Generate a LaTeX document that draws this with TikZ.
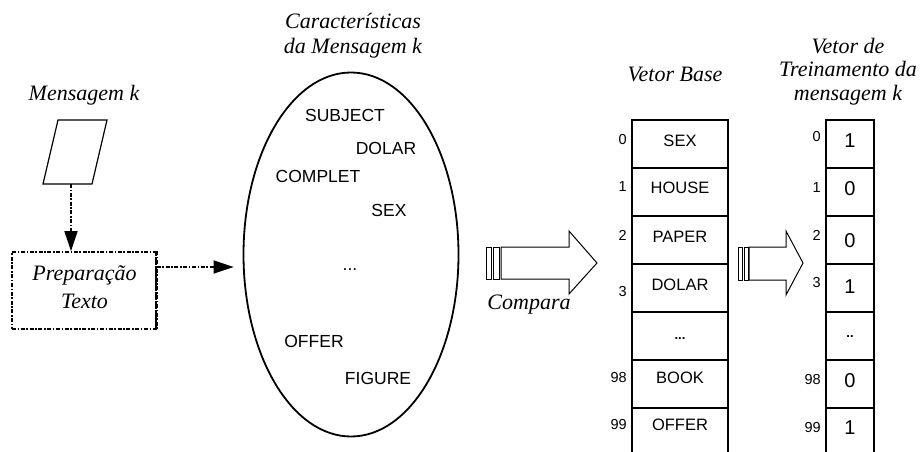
\documentclass[tikz,border=0pt]{standalone}
\usepackage{fontspec}
\setmainfont{Liberation Serif}
\newfontfamily\arialish{Liberation Sans}
\usetikzlibrary{shapes.geometric,arrows.meta}

\begin{document}
\begin{tikzpicture}[x=1pt,y=-1pt,
  title/.style={font=\fontsize{22}{25}\selectfont\itshape, align=center, inner sep=0},
  word/.style={font=\arialish\fontsize{16.5}{18}\selectfont, inner sep=0},
  setword/.style={word, font=\arialish\fontsize{17.5}{19}\selectfont},
  idx/.style={font=\arialish\fontsize{14.5}{16}\selectfont, inner sep=0, anchor=east},
  bit/.style={font=\arialish\fontsize{20}{22}\selectfont, inner sep=0},
  cell/.style={draw, line width=1.1pt, minimum height=48pt, inner sep=0, outer sep=0},
  dashdot/.style={dash pattern=on 4pt off 1.6pt on 1.6pt off 1.6pt},
  flow/.style={dashdot, line width=1.6pt, -{Triangle[length=20pt,width=13pt]}},
  fat/.style={draw, line width=1pt, line join=miter},
]
\useasboundingbox (0,0) rectangle (922,452);
\fill[white] (0,0) rectangle (922,452);
\clip (0,0) rectangle (922,452);

% --- incoming message and text preparation ---
\node[title, anchor=base] (msgtitle) at (84,101) {Mensagem k};
\draw[line width=1.2pt, line join=miter] (58,120) -- (107,120) -- (92,184) -- (43,184) -- cycle;
\coordinate (msgbot) at (71,184);

\node[draw, dashdot, line width=1.7pt, minimum width=144pt, minimum height=77pt, inner sep=0] (prep) at (84,290.5) {};
\draw[dashdot, line width=2.8pt] (prep.north east) -- (prep.south east);
\node[title, font=\fontsize{22}{28}\selectfont\itshape] (preptxt) at (84.5,287) {Preparação\\Texto};

\draw[flow] (msgbot) -- (msgbot |- prep.north);

% --- feature set of the message ---
\node[title] (feattitle) at (353,36) {Características\\da Mensagem k};
\node[draw, ellipse, line width=1.8pt, minimum width=215pt, minimum height=364pt, inner sep=0] (feat) at (351,254.5) {};

\draw[flow] ([yshift=23.5pt]prep.east) -- ([xshift=-9pt,yshift=-12.5pt]feat.west);

\node[setword] (fw1) at (345,115) {SUBJECT};
\node[setword] (fw2) at (386,148) {DOLAR};
\node[setword] (fw3) at (318,176) {COMPLET};
\node[setword] (fw4) at (389,210) {SEX};
\node[setword, anchor=base] (fw5) at (350,270) {...};
\node[setword] (fw6) at (314,341) {OFFER};
\node[setword] (fw7) at (378,378) {FIGURE};

% --- compare arrow ---
\draw[fat] (486,247) rectangle (491,279);
\draw[fat] (493,247) rectangle (499,279);
\draw[fat] (501,247) -- (569,247) -- (569,231) -- (597,263) -- (569,294) -- (569,279) -- (501,279) -- cycle;
\node[title, anchor=base] (cmp) at (529,309) {Compara};

% --- base vector ---
\node[title, anchor=base] (basetitle) at (675,82) {Vetor Base};
\foreach \i in {0,...,6}
  \node[cell, minimum width=96pt] (b\i) at (680,144+48*\i) {};
\foreach \n/\w/\y in {0/SEX/141,1/HOUSE/188,2/PAPER/237,3/DOLAR/285,5/BOOK/378,6/OFFER/425}
  \node[word] (bw\n) at (680,\y) {\w};
\node[word, anchor=base, font=\arialish\bfseries\fontsize{13}{15}\selectfont] (bw4) at (680,339) {...};
\foreach \t/\y in {0/140,1/187,2/235,3/292,98/378,99/425}
  \node[idx] (bi\t) at (627,\y) {\t};

% --- second arrow ---
\draw[fat] (738,247) rectangle (742,280);
\draw[fat] (744,247) rectangle (748,280);
\draw[fat] (749,247) -- (786,247) -- (786,231) -- (803,263) -- (786,295) -- (786,280) -- (749,280) -- cycle;

% --- training vector ---
\node[title, font=\fontsize{22}{23.5}\selectfont\itshape] (traintitle) at (848,71.5) {Vetor de\\Treinamento da\\mensagem k};
\foreach \i in {0,...,6}
  \node[cell, minimum width=48pt] (t\i) at (850,144+48*\i) {};
\foreach \n/\v/\y in {0/1/141,1/0/189,2/0/241,3/1/287,5/0/381,6/1/428}
  \node[bit] (tv\n) at (850,\y) {\v};
\node[word, anchor=base, font=\arialish\bfseries\fontsize{13}{15}\selectfont] (tv4) at (850,337) {..};
\foreach \t/\y in {0/137,1/188,2/235,3/283,98/380,99/428}
  \node[idx] (ti\t) at (821,\y) {\t};
\end{tikzpicture}
\end{document}
